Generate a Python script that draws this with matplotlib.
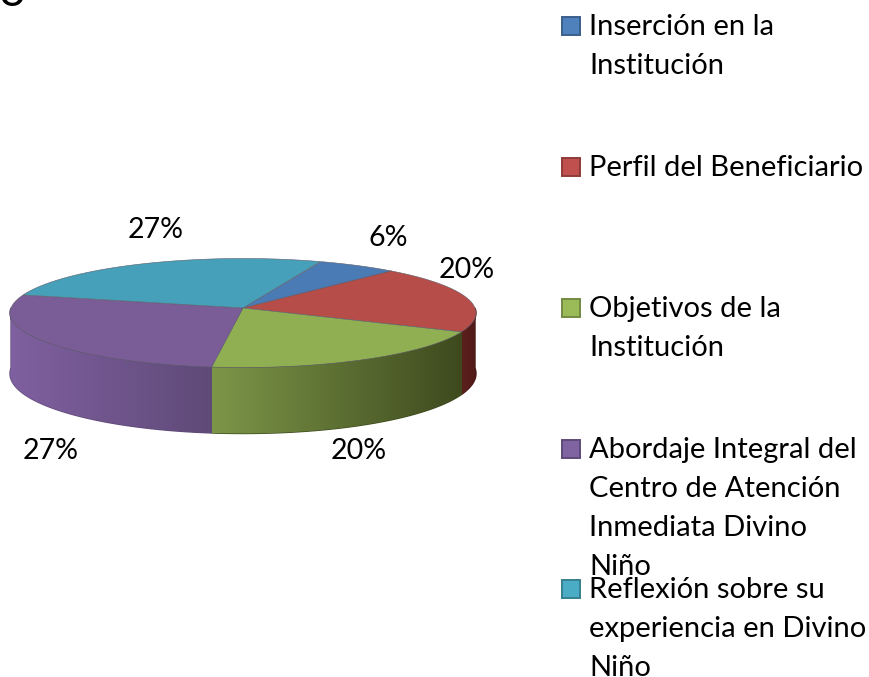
# Pie chart with a 3D look, drawn by hand from the percent values

import numpy as np
import matplotlib
matplotlib.use("Agg")
import matplotlib.pyplot as plt
from matplotlib.patches import Polygon, Rectangle
from matplotlib.colors import to_rgb

names = ["Inserción en la\nInstitución", "Perfil del Beneficiario", "Objetivos de la\nInstitución",
         "Abordaje Integral del\nCentro de Atención\nInmediata Divino\nNiño",
         "Reflexión sobre su\nexperiencia en Divino\nNiño"]
values = [6, 20, 20, 27, 27]
top_colors = ["#4a7bb5", "#b64d49", "#90ae52", "#7a5c97", "#46a0ba"]
legend_colors = ["#4f81bd", "#c0504d", "#9bbb59", "#8064a2", "#4bacc6"]
legend_edges = ["#3a5f8c", "#8e3b39", "#728a42", "#5e4a78", "#37808f"]
side_left = ["#3a5f8c", "#5c201c", "#7c9648", "#7f60a0", "#37808f"]
side_right = ["#3a5f8c", "#4e1a18", "#3e4a1e", "#5f4a78", "#37808f"]

label_pos = [(388, 246), (467, 278), (359, 459), (51, 459), (156, 238)]
legend_base = [35, 176, 317, 458, 598]

plt.rcParams['font.family'] = ['Lato', 'DejaVu Sans']
fig = plt.figure(figsize=(8.69, 6.77), dpi=100)
ax = fig.add_axes([0, 0, 1, 1])

cx, cy, rx, ry = 243, 313, 233, 54.5
apex = 0.092
start = 21.5


def edge(t):
    # point on the rim for a pie angle t (degrees clockwise from the back)
    a = np.radians(t)
    dx, dy = np.sin(a), np.cos(a)
    b = apex * dy
    s = -b + np.sqrt(b * b + 1 - apex * apex)
    return cx + rx * s * dx, cy - ry * (apex + s * dy)


def depth(t):
    return 60 + 6 * max(0, -np.cos(np.radians(t)))


angles = start + np.concatenate([[0], np.cumsum(values)]) * 3.6

# side wall first, a gradient clipped to the wall outline
for i in range(len(values)):
    lo = max(angles[i], 90)
    hi = min(angles[i + 1], 270)
    if hi <= lo:
        continue
    steps = np.arange(lo, hi + 0.5, 1.0)
    upper = [edge(t) for t in steps]
    lower = [(edge(t)[0], edge(t)[1] + depth(t)) for t in steps[::-1]]
    c0, c1 = np.array(to_rgb(side_left[i])), np.array(to_rgb(side_right[i]))
    # solid copy under the gradient so no white seam shows at the wall ends
    ax.add_patch(Polygon(upper + lower, closed=True, fc=(c0 + c1) / 2, ec=c1, lw=1, zorder=-1))
    wall = Polygon(upper + lower, closed=True, fc='none', ec='none', transform=ax.transData)
    ax.add_patch(wall)
    xs = [p[0] for p in upper]
    x0, x1 = min(xs), max(xs)
    ramp = np.linspace(0, 1, 200)[None, :, None]
    # side_left/side_right run from the wall's left end to its right end
    img = c0[None, None, :] * (1 - ramp) + c1[None, None, :] * ramp
    im = ax.imshow(img, extent=(x0, x1, 445, 300), aspect='auto', interpolation='bilinear')
    im.set_clip_path(wall)

# top face
centre = (cx, cy - ry * apex)
for i in range(len(values)):
    pts = [centre] + [edge(t) for t in np.arange(angles[i], angles[i + 1] + 0.5, 1.0)]
    ax.add_patch(Polygon(pts, closed=True, fc=top_colors[i], ec="#5d5d6a", lw=0.4))

# percent labels
for v, (lx, ly) in zip(values, label_pos):
    ax.text(lx, ly, "%d%%" % v, fontsize=20.6, color='black', ha='center', va='baseline')

# legend, placed by hand because the last two entries overlap
for name, c, e, by in zip(names, legend_colors, legend_edges, legend_base):
    ax.add_patch(Rectangle((562, by - 18), 18, 18, fc=c, ec=e, lw=1.4))
    for k, line in enumerate(name.split("\n")):
        ax.text(589, by + k * 39, line, fontsize=21, color='black', ha='left', va='baseline')

# cut off title letter in the corner
ax.text(12, 6, "o", fontsize=34, color='black', ha='center', va='baseline')

ax.set_xlim(0, 869)
ax.set_ylim(677, 0)
ax.axis('off')

plt.savefig("out.png", dpi=100)
